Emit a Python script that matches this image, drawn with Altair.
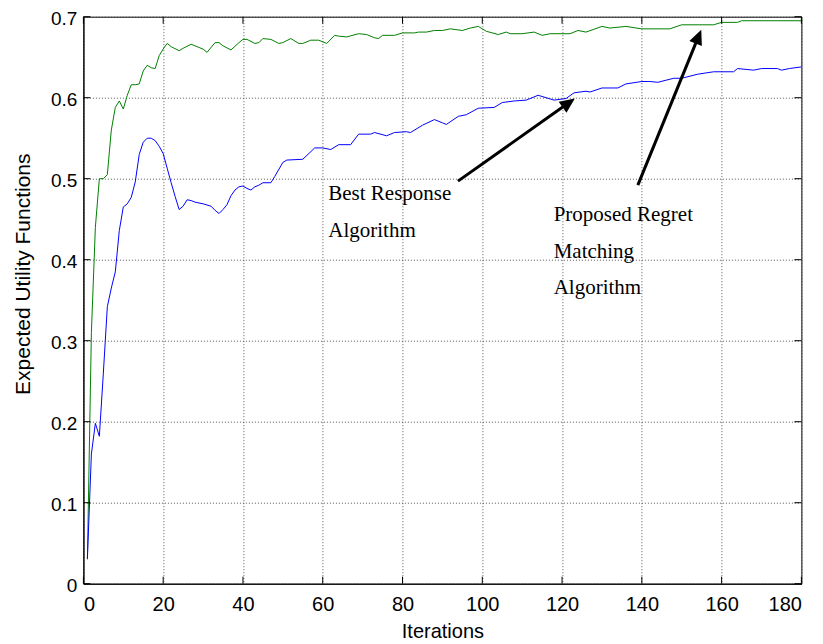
import math
import altair as alt
import pandas as pd

# ---- data ----
green_x = [1, 2, 3, 4, 5, 6, 7, 8, 9, 10, 11, 12, 13, 14, 15, 16, 17, 18, 19, 20,
           21, 22, 24, 25, 27, 29, 30, 31, 33, 34, 35, 37, 39, 40, 41, 43, 44, 45, 47, 49,
           50, 52, 54, 55, 57, 59, 61, 63, 64, 66, 69, 71, 73, 74, 75, 78, 80, 83, 84, 86,
           88, 90, 92, 95, 97, 99, 101, 104, 106, 107, 110, 113, 115, 117, 122, 124, 126, 130, 132, 136,
           140, 147, 150, 158, 160, 164, 165, 180]
green_y = [0.03, 0.31, 0.44, 0.50, 0.50, 0.505, 0.56, 0.588, 0.596, 0.586, 0.603, 0.616, 0.616, 0.617, 0.633, 0.640, 0.637, 0.636, 0.652, 0.660,
           0.667, 0.663, 0.658, 0.661, 0.666, 0.662, 0.660, 0.656, 0.668, 0.668, 0.664, 0.659, 0.668, 0.672, 0.672, 0.667, 0.668, 0.673, 0.672, 0.667,
           0.668, 0.673, 0.667, 0.667, 0.671, 0.671, 0.667, 0.677, 0.676, 0.675, 0.679, 0.678, 0.674, 0.673, 0.677, 0.677, 0.680, 0.680, 0.681, 0.681,
           0.683, 0.683, 0.685, 0.683, 0.686, 0.688, 0.682, 0.678, 0.681, 0.679, 0.679, 0.681, 0.677, 0.679, 0.679, 0.683, 0.681, 0.688, 0.686, 0.688,
           0.685, 0.685, 0.690, 0.690, 0.693, 0.693, 0.695, 0.695]

blue_x = [1, 2, 3, 4, 5, 6, 7, 8, 9, 10, 11, 12, 13, 14, 15, 16, 17, 18, 19, 20,
          21, 22, 23, 24, 25, 26, 27, 28, 30, 32, 33, 34, 35, 36, 37, 38, 39, 40, 41, 42,
          43, 44, 45, 47, 48, 50, 51, 55, 58, 60, 62, 64, 67, 69, 72, 73, 76, 78, 81, 82,
          85, 88, 90, 91, 94, 96, 99, 103, 105, 108, 111, 114, 118, 121, 123, 126, 127, 130, 134, 136,
          140, 142, 144, 148, 150, 154, 158, 163, 164, 168, 170, 174, 175, 177, 180]
blue_y = [0.031, 0.16, 0.198, 0.182, 0.26, 0.342, 0.365, 0.385, 0.436, 0.465, 0.469, 0.477, 0.496, 0.530, 0.545, 0.550, 0.550, 0.547, 0.540, 0.531,
          0.513, 0.495, 0.478, 0.462, 0.466, 0.474, 0.473, 0.471, 0.469, 0.466, 0.461, 0.457, 0.462, 0.468, 0.479, 0.486, 0.490, 0.491, 0.488, 0.486,
          0.490, 0.492, 0.495, 0.495, 0.503, 0.520, 0.523, 0.524, 0.538, 0.538, 0.536, 0.542, 0.542, 0.555, 0.555, 0.557, 0.553, 0.557, 0.558, 0.557,
          0.566, 0.573, 0.569, 0.567, 0.577, 0.579, 0.587, 0.588, 0.594, 0.596, 0.597, 0.603, 0.597, 0.599, 0.606, 0.608, 0.607, 0.612, 0.612, 0.617,
          0.620, 0.620, 0.619, 0.624, 0.624, 0.629, 0.632, 0.632, 0.636, 0.634, 0.636, 0.636, 0.634, 0.636, 0.638]

x_ticks = [0, 20, 40, 60, 80, 100, 120, 140, 160, 180]
y_ticks = [0, 0.1, 0.2, 0.3, 0.4, 0.5, 0.6, 0.7]

# annotation arrows (data units): tail -> tip
arrow_x0 = [93.9, 139.0]
arrow_y0 = [0.497, 0.492]
arrow_x1 = [123.2, 154.9]
arrow_y1 = [0.599, 0.684]

# annotation text lines (left x, baseline y)
label_text = ["Best Response", "Algorithm", "Proposed Regret", "Matching", "Algorithm"]
label_x = [61.4, 61.4, 117.9, 117.9, 117.9]
label_y = [0.4734, 0.428, 0.4475, 0.4026, 0.358]

# ---- layout ----
W, H = 718, 567
XMAX, YMAX = 180, 0.7
px_x = W / XMAX
px_y = H / YMAX

xs = alt.Scale(domain=[0, XMAX], nice=False, zero=False)
ys = alt.Scale(domain=[0, YMAX], nice=False, zero=False)

lines_df = pd.concat([
    pd.DataFrame({"x": green_x, "y": green_y, "s": "Proposed"}),
    pd.DataFrame({"x": blue_x, "y": blue_y, "s": "Best"}),
])

# arrows: compute angles and shaft end points from the data arrays
angles, sx1, sy1 = [], [], []
HEAD = 15.0
for x0, y0, x1, y1 in zip(arrow_x0, arrow_y0, arrow_x1, arrow_y1):
    dx = (x1 - x0) * px_x
    dy = (y1 - y0) * px_y
    L = math.hypot(dx, dy)
    angles.append(math.degrees(math.atan2(dx, dy)))
    sx1.append(x1 - dx / L * (HEAD * 0.7) / px_x)
    sy1.append(y1 - dy / L * (HEAD * 0.7) / px_y)
arrows_df = pd.DataFrame({"x0": arrow_x0, "y0": arrow_y0, "x1": arrow_x1, "y1": arrow_y1,
                          "sx1": sx1, "sy1": sy1, "angle": angles})
labels_df = pd.DataFrame({"t": label_text, "x": label_x, "y": label_y})
xt_df = pd.DataFrame({"v": x_ticks})
yt_df = pd.DataFrame({"v": y_ticks})

x_axis = alt.Axis(values=x_ticks, title="Iterations", grid=True, ticks=False, tickSize=0,
                  labelPadding=27, labelBaseline="alphabetic", titleBaseline="alphabetic",
                  titleY=53.4, format="d", labelFontSize=20, titleFontSize=20)
y_axis = alt.Axis(values=y_ticks, title="Expected Utility Functions", grid=True, ticks=False, tickSize=0,
                  labelPadding=6.5, labelOffset=1.5, labelFontSize=19,
                  labelExpr="datum.value == 0 ? '0' : format(datum.value, '.1f')",
                  titleX=-50, titleY=257, titleBaseline="bottom", titleFontSize=21)

lines = alt.Chart(lines_df).mark_line(strokeWidth=1, clip=True).encode(
    x=alt.X("x:Q", scale=xs, axis=x_axis),
    y=alt.Y("y:Q", scale=ys, axis=y_axis),
    color=alt.Color("s:N", scale=alt.Scale(domain=["Proposed", "Best"], range=["#008000", "#0000ff"]), legend=None),
    detail="s:N",
)

TL = 7
tick_bottom = alt.Chart(xt_df).mark_rule(color="black", strokeWidth=1).encode(
    x=alt.X("v:Q", scale=xs), y=alt.value(H), y2=alt.value(H - TL))
tick_top = alt.Chart(xt_df).mark_rule(color="black", strokeWidth=1).encode(
    x=alt.X("v:Q", scale=xs), y=alt.value(0), y2=alt.value(TL))
tick_left = alt.Chart(yt_df).mark_rule(color="black", strokeWidth=1).encode(
    y=alt.Y("v:Q", scale=ys), x=alt.value(0), x2=alt.value(TL))
tick_right = alt.Chart(yt_df).mark_rule(color="black", strokeWidth=1).encode(
    y=alt.Y("v:Q", scale=ys), x=alt.value(W), x2=alt.value(W - TL))

shafts = alt.Chart(arrows_df).mark_rule(color="black", strokeWidth=3).encode(
    x=alt.X("x0:Q", scale=xs), y=alt.Y("y0:Q", scale=ys), x2="sx1:Q", y2="sy1:Q")
heads = alt.Chart(arrows_df).mark_point(
    shape="M0,0 L0.45,1 L-0.45,1 Z", filled=True, color="black", opacity=1,
    size=(2 * HEAD) ** 2, strokeWidth=0,
).encode(x=alt.X("x1:Q", scale=xs), y=alt.Y("y1:Q", scale=ys),
         angle=alt.Angle("angle:Q", scale=None))

texts = alt.Chart(labels_df).mark_text(
    align="left", baseline="alphabetic", font="Liberation Serif", fontSize=21, color="black"
).encode(x=alt.X("x:Q", scale=xs), y=alt.Y("y:Q", scale=ys), text="t:N")

chart = alt.layer(lines, tick_bottom, tick_top, tick_left, tick_right, shafts, heads, texts).properties(
    width=W, height=H,
    autosize=alt.AutoSizeParams(type="none"),
    padding={"left": 75.4, "top": 8.7, "right": 12, "bottom": 58},
    background="white",
).configure_view(
    stroke="black", strokeWidth=1,
).configure_axis(
    labelFont="Liberation Sans", labelColor="black",
    titleFont="Liberation Sans", titleFontWeight="normal", titleColor="black",
    domainColor="black", domainWidth=1,
    gridColor="#444444", gridDash=[1, 2], gridWidth=1, gridOpacity=0.9,
)

chart.save("out.html", embed_options={"renderer": "svg", "actions": False})
